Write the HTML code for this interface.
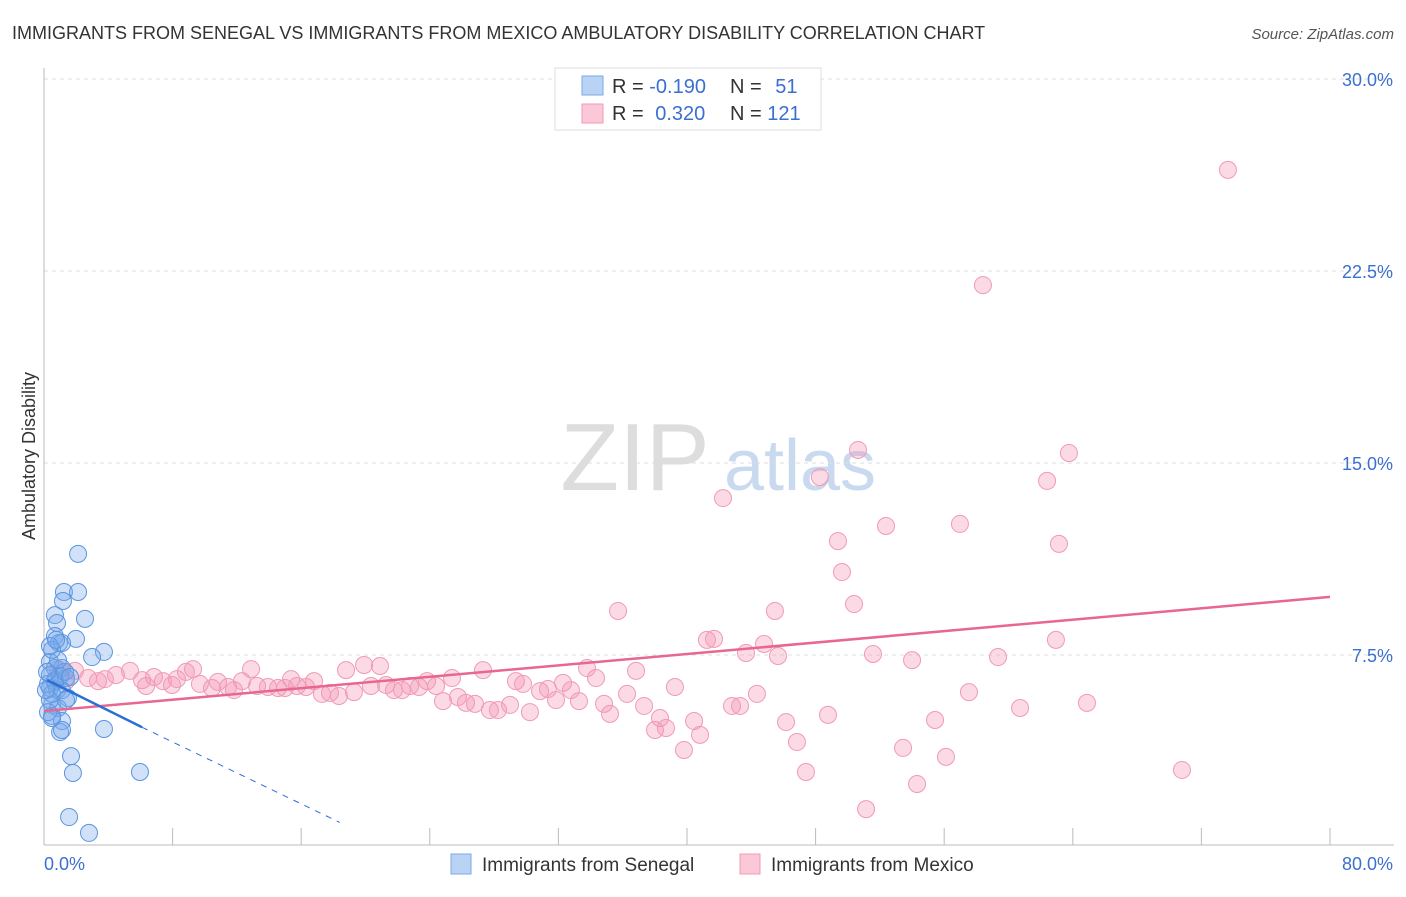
<!DOCTYPE html>
<html><head><meta charset="utf-8"><style>
body{margin:0;background:#fff;font-family:"Liberation Sans",sans-serif;}
svg text{font-family:"Liberation Sans",sans-serif;}
</style></head><body>
<svg id="c" width="1406" height="892" xmlns="http://www.w3.org/2000/svg">
<text x="12" y="39" font-size="18" fill="#333">IMMIGRANTS FROM SENEGAL VS IMMIGRANTS FROM MEXICO AMBULATORY DISABILITY CORRELATION CHART</text>
<text x="1394" y="39" font-size="15" fill="#555" font-style="italic" text-anchor="end">Source: ZipAtlas.com</text>
<text x="35" y="456" font-size="18" fill="#333" text-anchor="middle" transform="rotate(-90 35 456)">Ambulatory Disability</text>
<g><text x="635" y="490" font-size="96" fill="#ddd" font-family="Liberation Serif" text-anchor="middle">ZIP</text><text x="800" y="490" font-size="72" fill="#c9daf0" text-anchor="middle">atlas</text></g>
<g id="grid"></g><g id="axes"></g><g id="pts"></g><g id="trend"></g>
<g>
<rect x="555" y="68" width="266" height="62" fill="#fff" stroke="#ddd"/>
<rect x="582" y="76" width="21" height="19" fill="#b9d3f5" stroke="#7aa9e8"/>
<rect x="582" y="104" width="21" height="19" fill="#fbc8d8" stroke="#f19ab5"/>
<text x="612" y="93" font-size="20" fill="#333">R = <tspan fill="#3b6fd0">-0.190</tspan></text>
<text x="730" y="93" font-size="20" fill="#333">N = <tspan fill="#3b6fd0" dx="8">51</tspan></text>
<text x="612" y="120" font-size="20" fill="#333">R = <tspan fill="#3b6fd0" dx="6">0.320</tspan></text>
<text x="730" y="120" font-size="20" fill="#333">N = <tspan fill="#3b6fd0">121</tspan></text>
</g>
<g>
<rect x="451" y="854" width="20" height="20" fill="#b9d3f5" stroke="#7aa9e8"/>
<text x="482" y="871" font-size="19" fill="#333">Immigrants from Senegal</text>
<rect x="740" y="854" width="20" height="20" fill="#fbc8d8" stroke="#f19ab5"/>
<text x="771" y="871" font-size="19" fill="#333">Immigrants from Mexico</text>
</g>
</svg>
<script>
const yTicks=[7.5,15,22.5,30];
const yTickLabels=["7.5%","15.0%","22.5%","30.0%"];
const xTickCount=10;
const senegalPx=[[78,554],[64,592],[78,592],[63,601],[55,615],[85,619],[57,623],[55,636],[76,639],[59,643],[62,643],[104,652],[92,657],[50,662],[55,668],[62,668],[50,675],[55,680],[66,678],[50,688],[57,690],[62,690],[68,698],[52,705],[58,708],[52,716],[62,721],[60,732],[62,730],[104,729],[71,756],[73,773],[140,772],[69,817],[89,833],[50,700],[48,684],[55,682],[60,676],[65,672],[52,694],[47,672],[46,690],[58,660],[70,677],[52,650],[50,646],[56,640],[48,712],[52,718],[66,700]];
const mexicoPx=[[1228,170],[983,285],[858,450],[1069,453],[820,477],[1047,481],[723,498],[960,524],[886,526],[838,541],[1059,544],[842,572],[854,604],[618,611],[775,611],[707,640],[714,639],[1056,640],[764,644],[746,653],[778,656],[873,654],[912,660],[998,657],[636,671],[587,668],[483,670],[452,678],[380,666],[364,665],[346,670],[251,669],[193,669],[186,672],[130,671],[75,671],[62,672],[58,669],[116,675],[105,679],[88,678],[66,681],[98,681],[142,680],[146,686],[154,677],[163,681],[172,685],[177,679],[200,684],[212,688],[218,682],[228,687],[234,690],[242,681],[257,686],[268,687],[278,688],[285,688],[291,679],[297,686],[306,687],[314,681],[322,694],[330,693],[339,696],[354,692],[371,686],[386,685],[394,690],[402,690],[410,686],[419,687],[427,681],[436,686],[443,701],[458,697],[466,703],[475,704],[490,710],[498,710],[510,705],[516,681],[523,684],[530,712],[540,691],[548,689],[556,700],[563,683],[571,690],[579,701],[596,678],[604,704],[610,714],[627,694],[644,706],[660,718],[666,728],[675,687],[655,730],[684,750],[694,721],[700,735],[732,706],[740,706],[757,694],[786,722],[797,742],[806,772],[828,715],[866,809],[903,748],[917,784],[935,720],[946,757],[969,692],[1020,708],[1087,703],[1182,770]];
// convert read pixel positions to data values (x %, y %)
const senegalX=senegalPx.map(p=>+((p[0]-44)/16.075).toFixed(2));
const senegalY=senegalPx.map(p=>+((847-p[1])/25.6).toFixed(2));
const mexicoX=mexicoPx.map(p=>+((p[0]-44)/16.075).toFixed(2));
const mexicoY=mexicoPx.map(p=>+((847-p[1])/25.6).toFixed(2));
const mexicoTrend=[5.31,9.77];
const senegalTrend=[6.52,-0.0374];
const X=v=>44+v*1286/80, Y=v=>847-v*768/30;
const NS="http://www.w3.org/2000/svg";
function mk(parent,tag,attrs){const e=document.createElementNS(NS,tag);for(const k in attrs)e.setAttribute(k,attrs[k]);document.getElementById(parent).appendChild(e);return e;}
yTicks.forEach((t,i)=>{
 const l=mk('grid','line',{x1:44,x2:1394,y1:Y(t),y2:Y(t),stroke:'#ddd','stroke-dasharray':'4,4'});
 
 
 const tx=mk('grid','text',{x:1393,y:Y(t)+7,'font-size':18,fill:'#3b6fd0','text-anchor':'end'});
 tx.textContent=yTickLabels[i];
 
 
});
const ax=mk('axes','line',{x1:44,x2:1394,y1:845,y2:845,stroke:'#bbb'});


const ay=mk('axes','line',{x1:44,x2:44,y1:68,y2:845,stroke:'#bbb'});


for(let i=1;i<=xTickCount;i++){const t=mk('axes','line',{x1:X(i*8),x2:X(i*8),y1:828,y2:845,stroke:'#bbb'});
 
 }
const xl=mk('axes','text',{x:44,y:870,'font-size':18,fill:'#3b6fd0'});xl.textContent='0.0%';


const xr=mk('axes','text',{x:1393,y:870,'font-size':18,fill:'#3b6fd0','text-anchor':'end'});xr.textContent='80.0%';


mexicoX.forEach((x,i)=>{const c=mk('pts','circle',{cx:X(x),cy:Y(mexicoY[i]),r:8.5,fill:'rgba(244,150,180,0.35)',stroke:'#f19ab5','stroke-width':1});
 
 });
senegalX.forEach((x,i)=>{const c=mk('pts','circle',{cx:X(x),cy:Y(senegalY[i]),r:8.5,fill:'rgba(120,170,235,0.35)',stroke:'#5b95e0','stroke-width':1});
 
 });
const pt=mk('trend','line',{x1:X(0),y1:Y(mexicoTrend[0]),x2:X(80),y2:Y(mexicoTrend[1]),stroke:'#e8678f','stroke-width':2.5});


const sy=x=>senegalTrend[0]+senegalTrend[1]*x*16.075/25.6*-1*-1;
const bs=mk('trend','line',{x1:X(0.2),y1:Y(senegalTrend[0]),x2:X(6.1),y2:Y(senegalTrend[0]-0.0188*6.1*16.075),stroke:'#2a6fd6','stroke-width':2.5});


const bd=mk('trend','line',{x1:X(6.1),y1:Y(senegalTrend[0]-0.0188*6.1*16.075),x2:X(18.4),y2:Y(senegalTrend[0]-0.0188*18.4*16.075),stroke:'#2a6fd6','stroke-width':1,'stroke-dasharray':'6,6'});


</script>
</body></html>
